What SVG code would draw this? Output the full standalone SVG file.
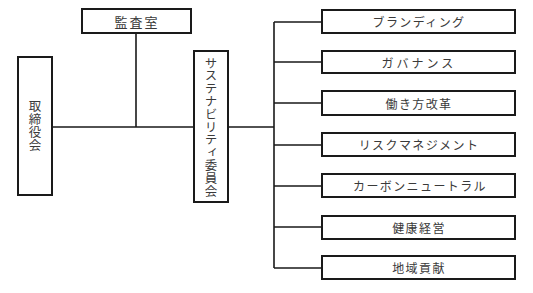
<svg xmlns="http://www.w3.org/2000/svg" width="533" height="293" viewBox="0 0 533 293">
<style>
.box{fill:#fff;stroke:#1a1a1a;stroke-width:2}
.ln{fill:none;stroke:#1a1a1a;stroke-width:1.6}
.t{font-family:"Noto Sans CJK JP","Noto Sans CJK SC",sans-serif;font-size:12px;fill:#3a3a3a;text-anchor:middle;dominant-baseline:central;letter-spacing:1.4px}
.v{font-family:"Noto Sans CJK JP","Noto Sans CJK SC",sans-serif;font-size:12.5px;fill:#3a3a3a;text-anchor:middle;writing-mode:vertical-rl;letter-spacing:0.3px}
</style>
<rect width="533" height="293" fill="#fff"/>
<g id="connectors">
<path class="ln" d="M52 127H194M136 33V127M228 127H274M274 22V268M274 22H322M274 62H322M274 103H322M274 145H322M274 186H322M274 227H322M274 268H322"/>
</g>
<g id="kansa"><rect class="box" x="82" y="9" width="109" height="24"/><text class="t" x="137" y="21" style="font-size:13px;letter-spacing:2px">監査室</text></g>
<g id="torishimariyakukai"><rect class="box" x="18" y="57" width="34" height="138"/>
<text class="v" x="35" y="126">取締役会</text></g>
<g id="sustainability"><rect class="box" x="194" y="51" width="34" height="151"/>
<text class="v" x="211" y="127">サステナビリティ委員会</text></g>
<g id="branding"><rect class="box" x="322" y="10" width="193" height="23"/><text class="t" x="419" y="21.5">ブランディング</text></g>
<g id="governance"><rect class="box" x="322" y="51" width="193" height="22"/><text class="t" x="419" y="62" style="letter-spacing:3px">ガバナンス</text></g>
<g id="hatarakikata"><rect class="box" x="322" y="91" width="193" height="24"/><text class="t" x="419" y="103">働き方改革</text></g>
<g id="risk"><rect class="box" x="322" y="133" width="193" height="23"/><text class="t" x="419" y="144.5">リスクマネジメント</text></g>
<g id="carbon"><rect class="box" x="322" y="174" width="193" height="23"/><text class="t" x="420" y="185.5">カーボンニュートラル</text></g>
<g id="kenko"><rect class="box" x="322" y="216" width="193" height="23"/><text class="t" x="419" y="227.5">健康経営</text></g>
<g id="chiiki"><rect class="box" x="322" y="256" width="193" height="23"/><text class="t" x="419" y="267.5">地域貢献</text></g>
</svg>
